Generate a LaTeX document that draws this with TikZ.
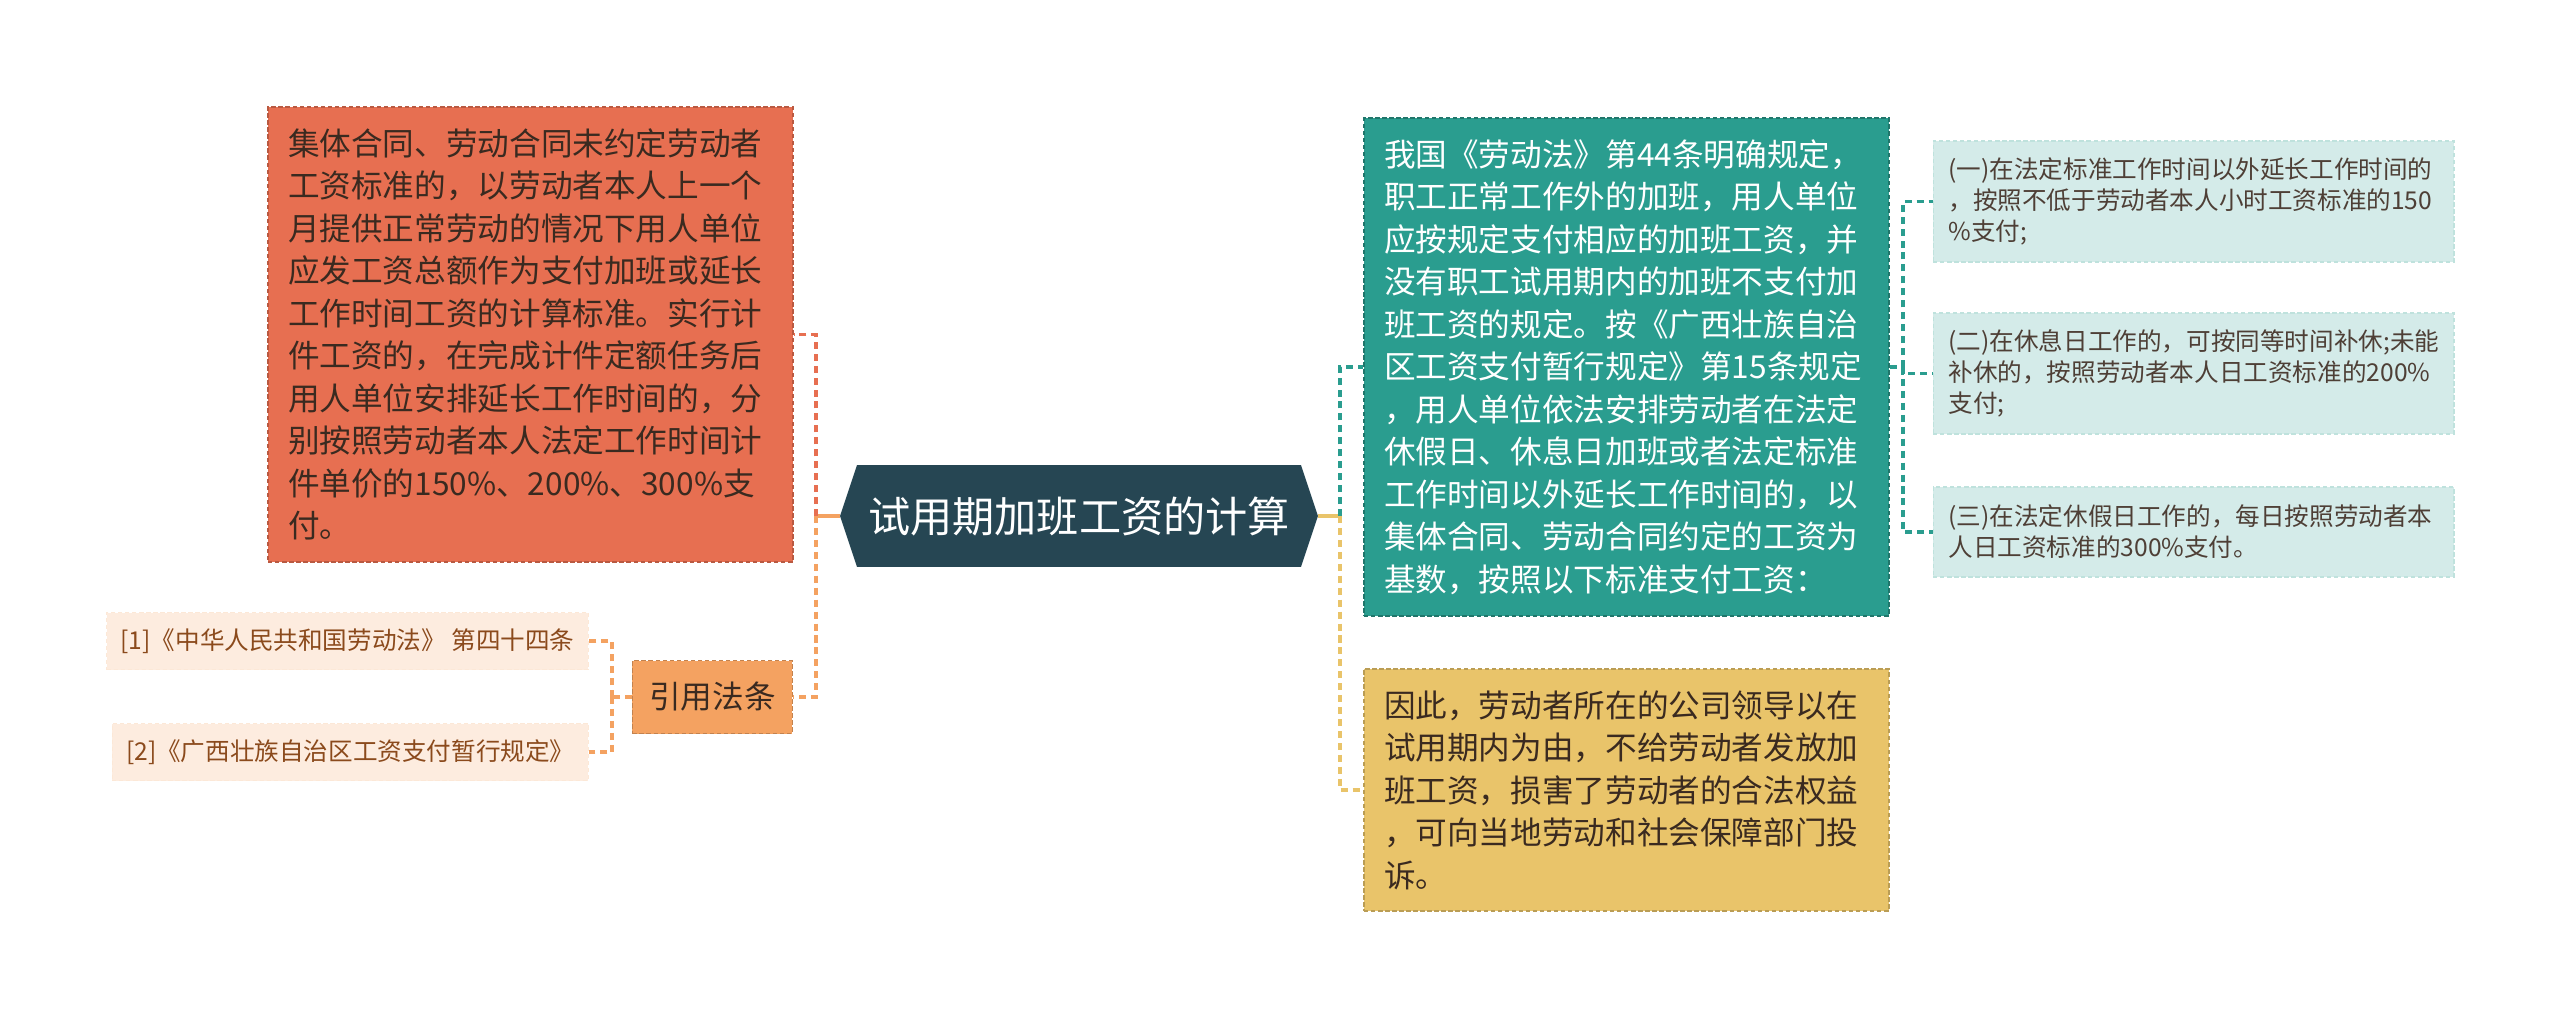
\documentclass[tikz,border=0pt]{standalone}
\usepackage{fontspec}
\setmainfont{Noto Sans CJK SC}
\usepackage{xcolor}
\usepackage{tikz}

\definecolor{mapDark}{HTML}{264653}
\definecolor{mapTeal}{HTML}{2A9D8F}
\definecolor{mapYellow}{HTML}{E9C46A}
\definecolor{mapOrange}{HTML}{F4A261}
\definecolor{mapRed}{HTML}{E76F51}
\definecolor{inkDark}{HTML}{3A2A20}
\definecolor{inkBrown}{HTML}{8B4A1C}

\tikzset{
    card/.style={rectangle, align=left, line width=0.7pt, dash pattern=on 2.5pt off 1.5pt,
        inner xsep=0.4cm, text width=9.7cm, minimum width=10.5cm,
        font=\fontsize{18pt}{24.2pt}\selectfont},
    subcard/.style={rectangle, align=left, line width=0.6pt, dash pattern=on 2.5pt off 1.5pt,
        fill=mapTeal!20, draw=mapTeal!30, text=inkDark!90,
        inner xsep=0.31cm, text width=9.8cm, minimum width=10.42cm,
        font=\fontsize{14pt}{17.6pt}\selectfont},
    refcard/.style={rectangle, anchor=east, line width=0.6pt, dash pattern=on 2.5pt off 1.5pt,
        fill=mapOrange!20, draw=mapOrange!25, text=inkBrown,
        inner xsep=0.28cm, minimum height=1.14cm,
        font=\fontsize{14pt}{17pt}\selectfont},
    topicbox/.style={rectangle, minimum width=9.56cm, minimum height=2.04cm, text=white,
        font=\fontsize{24pt}{28pt}\selectfont,
        path picture={
            \fill[mapDark] (path picture bounding box.west)
                -- ([xshift=0.34cm]path picture bounding box.north west)
                -- ([xshift=-0.34cm]path picture bounding box.north east)
                -- (path picture bounding box.east)
                -- ([xshift=-0.34cm]path picture bounding box.south east)
                -- ([xshift=0.34cm]path picture bounding box.south west)
                -- cycle;
        }},
    branch/.style={line width=1.8pt, dash pattern=on 4pt off 2.8pt},
    stub/.style={line width=1.8pt}
}

\begin{document}
\begin{tikzpicture}[x=0.02cm, y=-0.02cm]
    % 画布 2560 x 1018
    \fill[white] (0,0) rectangle (2560,1018);

    % 中心主题
    \node[topicbox] (topic) at (1079,516) {试用期加班工资的计算};

    % 左侧分支
    \node[card, fill=mapRed, draw=mapRed!80!black, text=inkDark,
        minimum height=9.1cm] (rule) at (530.5,334.5)
        {集体合同、劳动合同未约定劳动者\\
         工资标准的，以劳动者本人上一个\\
         月提供正常劳动的情况下用人单位\\
         应发工资总额作为支付加班或延长\\
         工作时间工资的计算标准。实行计\\
         件工资的，在完成计件定额任务后\\
         用人单位安排延长工作时间的，分\\
         别按照劳动者本人法定工作时间计\\
         件单价的150\%、200\%、300\%支\\
         付。};
    \node[rectangle, anchor=east, fill=mapOrange, draw=mapOrange!80!black,
        line width=0.7pt, dash pattern=on 2.5pt off 1.5pt, text=inkDark,
        minimum width=3.2cm, minimum height=1.46cm,
        font=\fontsize{18pt}{22pt}\selectfont] (cite) at (793,697) {引用法条};
    \node[refcard] (ref1) at (589,641) {[1]《中华人民共和国劳动法》 第四十四条};
    \node[refcard] (ref2) at (589,752) {[2]《广西壮族自治区工资支付暂行规定》};

    % 右侧分支
    \node[card, fill=mapTeal, draw=mapTeal!75!black, text=white,
        minimum height=9.96cm] (law) at (1626.5,367)
        {我国《劳动法》第44条明确规定，\\
         职工正常工作外的加班，用人单位\\
         应按规定支付相应的加班工资，并\\
         没有职工试用期内的加班不支付加\\
         班工资的规定。按《广西壮族自治\\
         区工资支付暂行规定》第15条规定\\
         ，用人单位依法安排劳动者在法定\\
         休假日、休息日加班或者法定标准\\
         工作时间以外延长工作时间的，以\\
         集体合同、劳动合同约定的工资为\\
         基数，按照以下标准支付工资：};
    \node[card, fill=mapYellow, draw=mapYellow!80!black, text=inkDark,
        minimum height=4.84cm] (claim) at (1626.5,790)
        {因此，劳动者所在的公司领导以在\\
         试用期内为由，不给劳动者发放加\\
         班工资，损害了劳动者的合法权益\\
         ，可向当地劳动和社会保障部门投\\
         诉。};

    \node[subcard, minimum height=2.42cm] (sub1) at (2193.5,201.5)
        {(一)在法定标准工作时间以外延长工作时间的\\
         ，按照不低于劳动者本人小时工资标准的150\\
         \%支付;};
    \node[subcard, minimum height=2.42cm] (sub2) at (2193.5,373.5)
        {(二)在休息日工作的，可按同等时间补休;未能\\
         补休的，按照劳动者本人日工资标准的200\%\\
         支付;};
    \node[subcard, minimum height=1.8cm] (sub3) at (2193.5,532)
        {(三)在法定休假日工作的，每日按照劳动者本\\
         人日工资标准的300\%支付。};

    % 连线
    \coordinate (lhub) at (816,516);
    \coordinate (rhub) at (1340,516);
    \coordinate (chub) at (612,697);
    \coordinate (thub) at (1903,367);

    \draw[stub, mapOrange] (topic.west) -- (lhub);
    \draw[branch, mapRed] (lhub) |- (rule.east);
    \draw[branch, mapOrange] (lhub) |- (cite.east);
    \draw[branch, mapOrange] (cite.west) -- (chub);
    \foreach \n in {ref1, ref2}
        \draw[branch, mapOrange] (chub) |- (\n.east);

    \draw[stub, mapYellow] (topic.east) -- (rhub);
    \draw[branch, mapTeal] (rhub) |- (law.west);
    \draw[branch, mapYellow] (rhub) |- (claim.west);
    \draw[branch, mapTeal] (law.east) -- (thub);
    \foreach \n in {sub1, sub2, sub3}
        \draw[branch, mapTeal] (thub) |- (\n.west);
\end{tikzpicture}
\end{document}
